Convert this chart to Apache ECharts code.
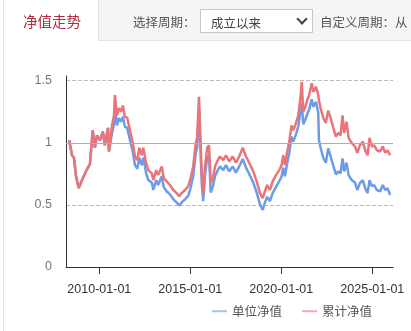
<!DOCTYPE html>
<html><head><meta charset="utf-8">
<script src="https://cdn.jsdelivr.net/npm/echarts@6/dist/echarts.min.js"></script>
<style>
html,body{margin:0;padding:0;width:411px;height:331px;overflow:hidden;background:#fff;font-family:"Noto Sans CJK SC","Noto Sans",sans-serif;}
#chart{position:absolute;left:0;top:0;width:411px;height:331px;}
#leftline{position:absolute;left:3px;top:0;width:1px;height:331px;background:#e6e6e6;}
#bar{position:absolute;left:98px;top:0;width:313px;height:41px;background:#f5f5f5;border-left:1px solid #e4e4e4;border-bottom:1px solid #e4e4e4;box-sizing:border-box;}
#tab{position:absolute;left:23px;top:10px;font-size:14.5px;color:#b8283f;white-space:nowrap;}
.lbl{position:absolute;top:12px;font-size:12.5px;color:#555;white-space:nowrap;}
#sel{position:absolute;left:200px;top:9px;width:113px;height:24px;background:#fff;border:1px solid #c8c8c8;box-sizing:border-box;}
#seltxt{position:absolute;left:10px;top:3px;font-size:12.5px;color:#444;}
#chev{position:absolute;right:6px;top:5px;width:6px;height:6px;border-right:2px solid #444;border-bottom:2px solid #444;transform:rotate(45deg);}
</style></head>
<body>
<div id="chart"></div>
<div id="leftline"></div>
<div id="bar"></div>
<div id="tab">净值走势</div>
<div class="lbl" style="left:133px">选择周期：</div>
<div id="sel"><span id="seltxt">成立以来</span><div id="chev"></div></div>
<div class="lbl" style="left:320px">自定义周期：从</div>
<script>
const dates = ['2008-05-07','2008-07-01','2008-08-10','2008-09-20','2008-11-14','2009-01-19','2009-04-08','2009-06-27','2009-08-21','2009-10-04',
'2009-11-14','2010-01-15','2010-03-13','2010-04-22','2010-06-24','2010-07-12','2010-09-13','2010-10-23','2010-11-10','2010-12-20',
'2011-01-30','2011-03-09','2011-04-19','2011-05-29','2011-07-15','2011-09-09','2011-11-03','2011-12-17','2012-02-03','2012-03-13',
'2012-04-30','2012-06-02','2012-07-26','2012-09-09','2012-11-18','2012-12-20','2013-02-14','2013-03-27','2013-06-06','2013-07-19',
'2013-09-13','2013-11-18','2014-01-26','2014-04-01','2014-05-25','2014-07-12','2014-09-17','2014-11-21','2015-01-08','2015-02-28',
'2015-04-22','2015-05-18','2015-06-24','2015-07-26','2015-08-18','2015-09-17','2015-10-23','2015-12-06','2016-01-12','2016-02-14',
'2016-04-05','2016-05-11','2016-06-24','2016-08-18','2016-10-23','2016-12-17','2017-02-21','2017-04-30','2017-07-05','2017-09-09',
'2017-11-18','2018-01-23','2018-03-27','2018-06-17','2018-08-25','2018-10-30','2018-12-24','2019-02-07','2019-03-24','2019-05-18',
'2019-07-12','2019-09-17','2019-11-21','2020-01-08','2020-02-10','2020-03-13','2020-04-30','2020-06-09','2020-07-26','2020-08-29',
'2020-10-23','2020-12-06','2021-01-26','2021-02-14','2021-03-17','2021-04-19','2021-06-06','2021-07-15','2021-09-02','2021-10-04',
'2021-11-28','2022-01-12','2022-01-26','2022-02-28','2022-04-22','2022-06-13','2022-07-30','2022-09-17','2022-11-10','2023-01-01',
'2023-02-18','2023-04-05','2023-05-14','2023-06-17','2023-08-03','2023-09-13','2023-11-14','2024-01-19','2024-03-06','2024-04-26',
'2024-06-24','2024-08-10','2024-09-27','2024-11-07','2024-12-24','2025-02-07','2025-04-01','2025-06-06','2025-07-30','2025-09-17',
'2025-11-03','2025-12-24'];
const unitNav = [1.02,0.90,0.88,0.73,0.635,0.70,0.77,0.83,1.10,0.96,
1.06,1.02,1.09,0.98,1.12,0.93,1.08,1.15,1.30,1.14,
1.20,1.17,1.21,1.13,1.12,1.02,0.93,0.82,0.79,0.88,
0.82,0.88,0.76,0.70,0.68,0.62,0.70,0.66,0.73,0.64,
0.61,0.585,0.545,0.52,0.495,0.52,0.545,0.575,0.64,0.73,
0.92,0.96,1.28,0.92,0.68,0.53,0.74,0.88,0.90,0.60,
0.66,0.73,0.77,0.81,0.78,0.82,0.77,0.81,0.76,0.81,
0.87,0.80,0.75,0.68,0.60,0.505,0.46,0.52,0.565,0.53,
0.595,0.645,0.69,0.73,0.80,0.73,0.84,0.92,1.05,1.01,
1.07,1.13,1.27,1.32,1.15,1.18,1.23,1.27,1.35,1.29,
1.33,1.24,1.02,0.96,0.88,0.84,0.955,0.89,0.815,0.745,
0.77,0.755,0.875,0.77,0.84,0.74,0.70,0.68,0.62,0.675,
0.70,0.635,0.595,0.70,0.65,0.66,0.62,0.61,0.66,0.62,
0.635,0.58];
const accNav = [1.02,0.90,0.88,0.73,0.635,0.70,0.77,0.83,1.10,0.96,
1.06,1.02,1.09,0.98,1.12,0.93,1.14,1.22,1.385,1.22,
1.28,1.25,1.30,1.21,1.20,1.10,1.00,0.89,0.86,0.96,
0.90,0.96,0.84,0.78,0.755,0.70,0.78,0.74,0.81,0.715,
0.69,0.66,0.62,0.595,0.57,0.595,0.62,0.65,0.715,0.81,
1.00,1.04,1.37,1.00,0.755,0.595,0.81,0.96,0.98,0.675,
0.73,0.81,0.85,0.89,0.86,0.90,0.85,0.89,0.84,0.89,
0.96,0.89,0.84,0.77,0.69,0.595,0.555,0.61,0.66,0.62,
0.69,0.74,0.78,0.82,0.90,0.82,0.93,1.01,1.14,1.10,
1.16,1.22,1.385,1.49,1.25,1.28,1.345,1.385,1.48,1.41,
1.45,1.385,1.34,1.28,1.20,1.16,1.26,1.20,1.12,1.05,
1.08,1.06,1.22,1.08,1.17,1.04,1.00,0.97,0.92,0.98,
1.01,0.94,0.90,1.04,0.97,0.98,0.94,0.93,0.97,0.92,
0.94,0.90];
const xTickLabels = ['2010-01-01','2015-01-01','2020-01-01','2025-01-01'];
const yTickValues = [0,0.5,1,1.5];
const seriesNames = ['单位净值','累计净值'];

const chart = echarts.init(document.getElementById('chart'));
const xTicks = xTickLabels.map(s => +new Date(s + 'T00:00:00'));
chart.setOption({
  animation:false,
  grid:{left:66,right:18,top:76,bottom:64},
  legend:{data:seriesNames,left:207,top:300,icon:'rect',itemWidth:15,itemHeight:2,itemGap:20,
    textStyle:{fontSize:12.5,color:'#555',fontFamily:'"Noto Sans CJK SC",sans-serif'}},
  xAxis:{type:'time',min:'2008-03-03',max:'2026-02-20',
    axisLine:{lineStyle:{color:'#333',width:1}},
    axisTick:{show:true,length:7,lineStyle:{color:'#333'},customValues:xTicks},
    axisLabel:{customValues:xTicks,formatter:'{yyyy}-{MM}-{dd}',color:'#333',fontSize:12.5,margin:16,
      fontFamily:'"Liberation Sans",Arial,sans-serif',hideOverlap:false},
    splitLine:{show:false}},
  yAxis:{type:'value',min:0,max:1.538,
    axisLine:{show:true,lineStyle:{color:'#333'}},
    axisTick:{show:false,customValues:yTickValues},
    axisLabel:{customValues:yTickValues,color:'#777',fontSize:12.5,margin:14,fontFamily:'"Liberation Sans",Arial,sans-serif'},
    splitLine:{show:true,lineStyle:{type:'dashed',color:'#bbb'}}},
  series:[
    {name:seriesNames[0],type:'line',showSymbol:false,data:dates.map((d,i)=>[d,unitNav[i]]),
      lineStyle:{width:2.5,color:'#6d9be8'},itemStyle:{color:'#a9c2f2'}},
    {name:seriesNames[1],type:'line',showSymbol:false,data:dates.map((d,i)=>[d,accNav[i]]),
      lineStyle:{width:2.5,color:'#ea7479'},itemStyle:{color:'#f2aab0'},
      markLine:{silent:true,symbol:'none',label:{show:false},lineStyle:{type:'solid',color:'#b5aab0',width:1},data:[{yAxis:1}]}}
  ]
});
</script>
</body></html>
